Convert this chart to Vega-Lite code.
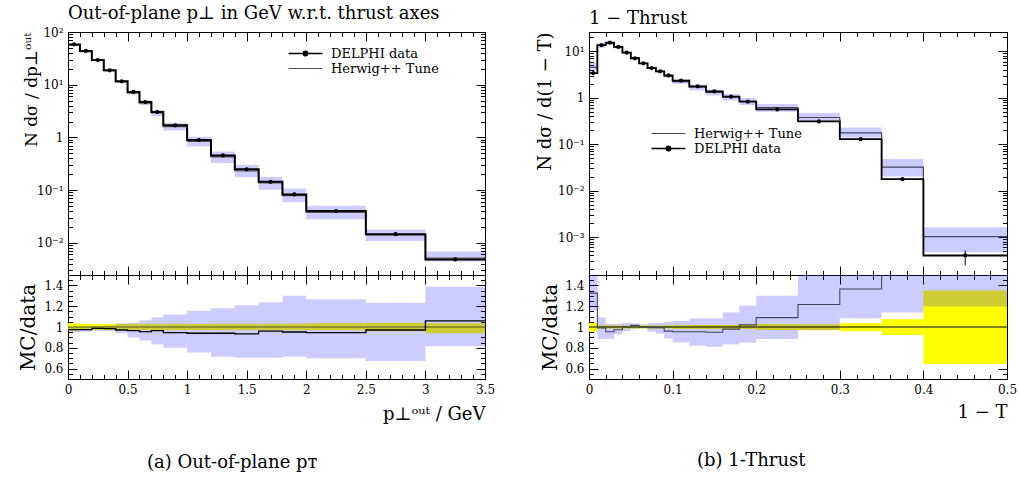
{
  "$schema": "https://vega.github.io/schema/vega-lite/v6.json",
  "background": "white",
  "padding": {"left": 17, "top": 4, "right": 0, "bottom": 0},
  "config": {
    "view": {"stroke": "black", "strokeWidth": 1},
    "axis": {"domain": false, "grid": false, "labelFont": "DejaVu Serif", "labelFontSize": 12, "labelColor": "black", "titleFont": "DejaVu Serif", "titleFontSize": 18, "titleFontWeight": "normal", "titleColor": "black", "tickColor": "black", "tickWidth": 1, "labelFlush": false, "labelOverlap": false, "zindex": 1},
    "title": {"font": "DejaVu Serif", "fontWeight": "normal", "fontSize": 18, "color": "black"}
  },
  "datasets": {
    "pt": [
      {"lo":0,"hi":0.1,"mid":0.05,"d":58,"eLo":57,"eHi":59,"mc":56.5,"bLo":55.1,"bHi":58,"r":0.974,"rLo":0.95,"rHi":1.0,"yLo":0.965,"yHi":1.035},
      {"lo":0.1,"hi":0.2,"mid":0.15,"d":43.6,"eLo":42.9,"eHi":44.3,"mc":42.5,"bLo":41.6,"bHi":43.6,"r":0.974,"rLo":0.955,"rHi":1.0,"yLo":0.97,"yHi":1.03},
      {"lo":0.2,"hi":0.3,"mid":0.25,"d":29.4,"eLo":28.9,"eHi":29.9,"mc":29.0,"bLo":28.4,"bHi":29.7,"r":0.987,"rLo":0.965,"rHi":1.01,"yLo":0.97,"yHi":1.03},
      {"lo":0.3,"hi":0.4,"mid":0.35,"d":18.7,"eLo":18.4,"eHi":19.0,"mc":18.4,"bLo":17.95,"bHi":19.0,"r":0.985,"rLo":0.96,"rHi":1.015,"yLo":0.97,"yHi":1.03},
      {"lo":0.4,"hi":0.5,"mid":0.45,"d":11.6,"eLo":11.4,"eHi":11.8,"mc":11.26,"bLo":10.9,"bHi":12.0,"r":0.971,"rLo":0.94,"rHi":1.035,"yLo":0.97,"yHi":1.03},
      {"lo":0.5,"hi":0.6,"mid":0.55,"d":7.27,"eLo":7.15,"eHi":7.39,"mc":7.02,"bLo":6.54,"bHi":7.56,"r":0.965,"rLo":0.90,"rHi":1.04,"yLo":0.97,"yHi":1.03},
      {"lo":0.6,"hi":0.7,"mid":0.65,"d":4.69,"eLo":4.61,"eHi":4.77,"mc":4.48,"bLo":4.08,"bHi":4.99,"r":0.955,"rLo":0.87,"rHi":1.064,"yLo":0.97,"yHi":1.03},
      {"lo":0.7,"hi":0.8,"mid":0.75,"d":3.03,"eLo":2.98,"eHi":3.08,"mc":2.92,"bLo":2.52,"bHi":3.31,"r":0.965,"rLo":0.833,"rHi":1.093,"yLo":0.97,"yHi":1.03},
      {"lo":0.8,"hi":1.0,"mid":0.9,"d":1.69,"eLo":1.66,"eHi":1.72,"mc":1.60,"bLo":1.35,"bHi":1.89,"r":0.945,"rLo":0.80,"rHi":1.12,"yLo":0.97,"yHi":1.03},
      {"lo":1.0,"hi":1.2,"mid":1.1,"d":0.887,"eLo":0.872,"eHi":0.902,"mc":0.834,"bLo":0.671,"bHi":1.026,"r":0.94,"rLo":0.756,"rHi":1.157,"yLo":0.97,"yHi":1.03},
      {"lo":1.2,"hi":1.4,"mid":1.3,"d":0.455,"eLo":0.447,"eHi":0.463,"mc":0.428,"bLo":0.325,"bHi":0.537,"r":0.94,"rLo":0.715,"rHi":1.18,"yLo":0.97,"yHi":1.03},
      {"lo":1.4,"hi":1.6,"mid":1.5,"d":0.248,"eLo":0.244,"eHi":0.252,"mc":0.231,"bLo":0.175,"bHi":0.300,"r":0.933,"rLo":0.705,"rHi":1.21,"yLo":0.97,"yHi":1.03},
      {"lo":1.6,"hi":1.8,"mid":1.7,"d":0.143,"eLo":0.1405,"eHi":0.1455,"mc":0.137,"bLo":0.101,"bHi":0.177,"r":0.96,"rLo":0.705,"rHi":1.237,"yLo":0.97,"yHi":1.03},
      {"lo":1.8,"hi":2.0,"mid":1.9,"d":0.0824,"eLo":0.081,"eHi":0.0838,"mc":0.0784,"bLo":0.0589,"bHi":0.107,"r":0.952,"rLo":0.715,"rHi":1.30,"yLo":0.968,"yHi":1.032},
      {"lo":2.0,"hi":2.5,"mid":2.25,"d":0.0398,"eLo":0.0391,"eHi":0.0405,"mc":0.0376,"bLo":0.0279,"bHi":0.0504,"r":0.945,"rLo":0.70,"rHi":1.266,"yLo":0.968,"yHi":1.035},
      {"lo":2.5,"hi":3.0,"mid":2.75,"d":0.0145,"eLo":0.0142,"eHi":0.0148,"mc":0.01408,"bLo":0.0108,"bHi":0.0179,"r":0.971,"rLo":0.673,"rHi":1.234,"yLo":0.958,"yHi":1.04},
      {"lo":3.0,"hi":3.5,"mid":3.25,"d":0.00483,"eLo":0.00474,"eHi":0.00492,"mc":0.00511,"bLo":0.0044,"bHi":0.0068,"r":1.058,"rLo":0.814,"rHi":1.388,"yLo":0.94,"yHi":1.035}
    ],
    "ptE": [
      {"x":0,"d":58,"mc":56.5,"r":0.974},{"x":0.1,"d":43.6,"mc":42.5,"r":0.974},{"x":0.2,"d":29.4,"mc":29.0,"r":0.987},{"x":0.3,"d":18.7,"mc":18.4,"r":0.985},{"x":0.4,"d":11.6,"mc":11.26,"r":0.971},{"x":0.5,"d":7.27,"mc":7.02,"r":0.965},{"x":0.6,"d":4.69,"mc":4.48,"r":0.955},{"x":0.7,"d":3.03,"mc":2.92,"r":0.965},{"x":0.8,"d":1.69,"mc":1.60,"r":0.945},{"x":1.0,"d":0.887,"mc":0.834,"r":0.94},{"x":1.2,"d":0.455,"mc":0.428,"r":0.94},{"x":1.4,"d":0.248,"mc":0.231,"r":0.933},{"x":1.6,"d":0.143,"mc":0.137,"r":0.96},{"x":1.8,"d":0.0824,"mc":0.0784,"r":0.952},{"x":2.0,"d":0.0398,"mc":0.0376,"r":0.945},{"x":2.5,"d":0.0145,"mc":0.01408,"r":0.971},{"x":3.0,"d":0.00483,"mc":0.00511,"r":1.058},{"x":3.5,"d":0.00483,"mc":0.00511,"r":1.058}
    ],
    "th": [
      {"lo":0,"hi":0.01,"mid":0.005,"d":3.4,"eLo":3.3,"eHi":3.5,"mc":4.51,"bLo":3.95,"bHi":5.6,"r":1.326,"rLo":1.16,"rHi":1.65,"yLo":0.955,"yHi":1.04},
      {"lo":0.01,"hi":0.02,"mid":0.015,"d":13.5,"eLo":13.3,"eHi":13.7,"mc":13.37,"bLo":11.95,"bHi":14.76,"r":0.99,"rLo":0.885,"rHi":1.093,"yLo":0.985,"yHi":1.015},
      {"lo":0.02,"hi":0.03,"mid":0.025,"d":15.4,"eLo":15.2,"eHi":15.6,"mc":14.7,"bLo":13.6,"bHi":15.9,"r":0.955,"rLo":0.885,"rHi":1.03,"yLo":0.985,"yHi":1.015},
      {"lo":0.03,"hi":0.04,"mid":0.035,"d":12.4,"eLo":12.2,"eHi":12.6,"mc":12.08,"bLo":11.5,"bHi":12.8,"r":0.974,"rLo":0.93,"rHi":1.03,"yLo":0.985,"yHi":1.015},
      {"lo":0.04,"hi":0.05,"mid":0.045,"d":9.36,"eLo":9.22,"eHi":9.5,"mc":9.39,"bLo":8.99,"bHi":9.73,"r":1.003,"rLo":0.96,"rHi":1.04,"yLo":0.985,"yHi":1.015},
      {"lo":0.05,"hi":0.06,"mid":0.055,"d":7.07,"eLo":6.97,"eHi":7.17,"mc":7.18,"bLo":6.93,"bHi":7.32,"r":1.016,"rLo":0.98,"rHi":1.035,"yLo":0.985,"yHi":1.015},
      {"lo":0.06,"hi":0.07,"mid":0.065,"d":5.5,"eLo":5.42,"eHi":5.58,"mc":5.48,"bLo":5.43,"bHi":5.64,"r":0.997,"rLo":0.987,"rHi":1.026,"yLo":0.985,"yHi":1.015},
      {"lo":0.07,"hi":0.08,"mid":0.075,"d":4.36,"eLo":4.3,"eHi":4.42,"mc":4.33,"bLo":4.16,"bHi":4.51,"r":0.994,"rLo":0.955,"rHi":1.035,"yLo":0.985,"yHi":1.015},
      {"lo":0.08,"hi":0.09,"mid":0.085,"d":3.7,"eLo":3.65,"eHi":3.75,"mc":3.68,"bLo":3.46,"bHi":3.85,"r":0.994,"rLo":0.936,"rHi":1.04,"yLo":0.985,"yHi":1.015},
      {"lo":0.09,"hi":0.1,"mid":0.095,"d":3.03,"eLo":2.99,"eHi":3.07,"mc":2.91,"bLo":2.70,"bHi":3.18,"r":0.96,"rLo":0.89,"rHi":1.05,"yLo":0.985,"yHi":1.015},
      {"lo":0.1,"hi":0.12,"mid":0.11,"d":2.33,"eLo":2.3,"eHi":2.36,"mc":2.23,"bLo":1.99,"bHi":2.47,"r":0.955,"rLo":0.853,"rHi":1.058,"yLo":0.98,"yHi":1.02},
      {"lo":0.12,"hi":0.14,"mid":0.13,"d":1.76,"eLo":1.74,"eHi":1.78,"mc":1.68,"bLo":1.44,"bHi":1.91,"r":0.955,"rLo":0.82,"rHi":1.083,"yLo":0.98,"yHi":1.02},
      {"lo":0.14,"hi":0.16,"mid":0.15,"d":1.37,"eLo":1.35,"eHi":1.39,"mc":1.30,"bLo":1.11,"bHi":1.48,"r":0.95,"rLo":0.81,"rHi":1.083,"yLo":0.98,"yHi":1.02},
      {"lo":0.16,"hi":0.18,"mid":0.17,"d":1.05,"eLo":1.035,"eHi":1.065,"mc":1.03,"bLo":0.875,"bHi":1.20,"r":0.98,"rLo":0.833,"rHi":1.14,"yLo":0.98,"yHi":1.02},
      {"lo":0.18,"hi":0.2,"mid":0.19,"d":0.82,"eLo":0.808,"eHi":0.832,"mc":0.836,"bLo":0.697,"bHi":0.988,"r":1.02,"rLo":0.85,"rHi":1.205,"yLo":0.98,"yHi":1.02},
      {"lo":0.2,"hi":0.25,"mid":0.225,"d":0.56,"eLo":0.552,"eHi":0.568,"mc":0.61,"bLo":0.496,"bHi":0.728,"r":1.09,"rLo":0.885,"rHi":1.30,"yLo":0.972,"yHi":1.028},
      {"lo":0.25,"hi":0.3,"mid":0.275,"d":0.308,"eLo":0.302,"eHi":0.314,"mc":0.375,"bLo":0.299,"bHi":0.467,"r":1.216,"rLo":0.97,"rHi":1.52,"yLo":0.968,"yHi":1.026},
      {"lo":0.3,"hi":0.35,"mid":0.325,"d":0.128,"eLo":0.125,"eHi":0.131,"mc":0.175,"bLo":0.139,"bHi":0.229,"r":1.365,"rLo":1.083,"rHi":1.79,"yLo":0.96,"yHi":1.035},
      {"lo":0.35,"hi":0.4,"mid":0.375,"d":0.0176,"eLo":0.0169,"eHi":0.0183,"mc":0.032,"bLo":0.02,"bHi":0.048,"r":1.82,"rLo":1.14,"rHi":2.73,"yLo":0.923,"yHi":1.074},
      {"lo":0.4,"hi":0.5,"mid":0.45,"d":0.0004,"eLo":0.000245,"eHi":0.00051,"mc":0.00102,"bLo":0.000468,"bHi":0.00162,"r":2.55,"rLo":1.196,"rHi":4.05,"yLo":0.644,"yHi":1.35}
    ],
    "thE": [
      {"x":0,"d":3.4,"mc":4.51,"r":1.326},{"x":0.01,"d":13.5,"mc":13.37,"r":0.99},{"x":0.02,"d":15.4,"mc":14.7,"r":0.955},{"x":0.03,"d":12.4,"mc":12.08,"r":0.974},{"x":0.04,"d":9.36,"mc":9.39,"r":1.003},{"x":0.05,"d":7.07,"mc":7.18,"r":1.016},{"x":0.06,"d":5.5,"mc":5.48,"r":0.997},{"x":0.07,"d":4.36,"mc":4.33,"r":0.994},{"x":0.08,"d":3.7,"mc":3.68,"r":0.994},{"x":0.09,"d":3.03,"mc":2.91,"r":0.96},{"x":0.1,"d":2.33,"mc":2.23,"r":0.955},{"x":0.12,"d":1.76,"mc":1.68,"r":0.955},{"x":0.14,"d":1.37,"mc":1.30,"r":0.95},{"x":0.16,"d":1.05,"mc":1.03,"r":0.98},{"x":0.18,"d":0.82,"mc":0.836,"r":1.02},{"x":0.2,"d":0.56,"mc":0.61,"r":1.09},{"x":0.25,"d":0.308,"mc":0.375,"r":1.216},{"x":0.3,"d":0.128,"mc":0.175,"r":1.365},{"x":0.35,"d":0.0176,"mc":0.032,"r":1.82},{"x":0.4,"d":0.0004,"mc":0.00102,"r":2.55},{"x":0.5,"d":0.0004,"mc":0.00102,"r":2.55}
    ]
  },
  "hconcat": [
    {
      "vconcat": [
        {
          "width": 417, "height": 243,
          "title": {"text": "Out-of-plane p⊥ in GeV w.r.t. thrust axes", "anchor": "start", "frame": "group", "offset": 3},
          "layer": [
            {
              "data": {"name": "pt"},
              "mark": {"type": "rect", "color": "#0000ff", "opacity": 0.2},
              "encoding": {
                "x": {"field": "lo", "type": "quantitative", "scale": {"domain": [0, 3.5], "nice": false, "zero": false},
                  "axis": {"orient": "bottom", "values": [0,0.1,0.2,0.3,0.4,0.5,0.6,0.7,0.8,0.9,1,1.1,1.2,1.3,1.4,1.5,1.6,1.7,1.8,1.9,2,2.1,2.2,2.3,2.4,2.5,2.6,2.7,2.8,2.9,3,3.1,3.2,3.3,3.4,3.5], "labels": false, "title": null,
                    "tickSize": {"condition": {"test": "abs(datum.value*2-round(datum.value*2))<0.001", "value": -9}, "value": -4.5}}},
                "x2": {"field": "hi"},
                "y": {"field": "bLo", "type": "quantitative", "scale": {"type": "log", "domain": [0.00244, 100], "nice": false},
                  "axis": {"orient": "left", "values": [0.003,0.004,0.005,0.006,0.007,0.008,0.009,0.01,0.02,0.03,0.04,0.05,0.06,0.07,0.08,0.09,0.1,0.2,0.3,0.4,0.5,0.6,0.7,0.8,0.9,1,2,3,4,5,6,7,8,9,10,20,30,40,50,60,70,80,90,100],
                    "labelExpr": "abs(log(datum.value)/LN10-round(log(datum.value)/LN10))<0.001 ? (round(log(datum.value)/LN10)==0 ? '1' : '10' + (round(log(datum.value)/LN10)<0 ? '⁻' : '') + substring('⁰¹²³⁴⁵⁶⁷⁸⁹', abs(round(log(datum.value)/LN10)), abs(round(log(datum.value)/LN10))+1)) : ''",
                    "labelPadding": 14, "title": "N dσ / dp⊥ᵒᵘᵗ", "titleFontSize": 17, "titleAnchor": "end", "titleX": -32, "titleBaseline": "alphabetic",
                    "tickSize": {"condition": {"test": "abs(log(datum.value)/LN10-round(log(datum.value)/LN10))<0.001", "value": -9}, "value": -4.5}}},
                "y2": {"field": "bHi"}
              }
            },
            {
              "data": {"name": "ptE"},
              "mark": {"type": "line", "interpolate": "step-after", "strokeWidth": 1.2},
              "encoding": {
                "x": {"field": "x", "type": "quantitative",
                  "axis": {"orient": "top", "values": [0,0.1,0.2,0.3,0.4,0.5,0.6,0.7,0.8,0.9,1,1.1,1.2,1.3,1.4,1.5,1.6,1.7,1.8,1.9,2,2.1,2.2,2.3,2.4,2.5,2.6,2.7,2.8,2.9,3,3.1,3.2,3.3,3.4,3.5], "labels": false, "title": null,
                    "tickSize": {"condition": {"test": "abs(datum.value*2-round(datum.value*2))<0.001", "value": -9}, "value": -4.5}}},
                "y": {"field": "mc", "type": "quantitative",
                  "axis": {"orient": "right", "values": [0.003,0.004,0.005,0.006,0.007,0.008,0.009,0.01,0.02,0.03,0.04,0.05,0.06,0.07,0.08,0.09,0.1,0.2,0.3,0.4,0.5,0.6,0.7,0.8,0.9,1,2,3,4,5,6,7,8,9,10,20,30,40,50,60,70,80,90,100], "labels": false, "title": null,
                    "tickSize": {"condition": {"test": "abs(log(datum.value)/LN10-round(log(datum.value)/LN10))<0.001", "value": -9}, "value": -4.5}}},
                "color": {"datum": "Herwig++ Tune", "type": "nominal", "scale": {"domain": ["DELPHI data", "Herwig++ Tune"], "range": ["black", "#555555"]},
                  "legend": {"orient": "none", "legendX": 231, "legendY": 15, "title": null, "symbolSize": 128, "labelFont": "DejaVu Serif", "labelFontSize": 13, "labelColor": "black", "rowPadding": 1, "padding": 0, "labelOffset": 19, "symbolOffset": 0,
                    "encode": {"symbols": {"update": {"shape": {"signal": "datum.value === 'DELPHI data' ? 'M-3,0H3M-0.38,0A0.38,0.38,0,1,0,0.38,0A0.38,0.38,0,1,0,-0.38,0Z' : 'M-3,0H3'"}, "fill": {"value": "black"}, "strokeWidth": {"signal": "datum.value === 'DELPHI data' ? 1.6 : 1.2"}}}}}}
              }
            },
            {
              "data": {"name": "ptE"},
              "mark": {"type": "line", "interpolate": "step-after", "strokeWidth": 2},
              "encoding": {
                "x": {"field": "x", "type": "quantitative", "axis": null},
                "y": {"field": "d", "type": "quantitative", "axis": null},
                "color": {"datum": "DELPHI data", "type": "nominal",
                  "legend": {"orient": "none", "legendX": 231, "legendY": 15, "title": null, "symbolSize": 128, "labelFont": "DejaVu Serif", "labelFontSize": 13, "labelColor": "black", "rowPadding": 1, "padding": 0, "labelOffset": 19, "symbolOffset": 0,
                    "encode": {"symbols": {"update": {"shape": {"signal": "datum.value === 'DELPHI data' ? 'M-3,0H3M-0.38,0A0.38,0.38,0,1,0,0.38,0A0.38,0.38,0,1,0,-0.38,0Z' : 'M-3,0H3'"}, "fill": {"value": "black"}, "strokeWidth": {"signal": "datum.value === 'DELPHI data' ? 1.6 : 1.2"}}}}}}
              }
            },
            {
              "data": {"name": "pt"},
              "mark": {"type": "rule", "color": "black"},
              "encoding": {
                "x": {"field": "mid", "type": "quantitative", "axis": null},
                "y": {"field": "eLo", "type": "quantitative", "axis": null},
                "y2": {"field": "eHi"}
              }
            },
            {
              "data": {"name": "pt"},
              "mark": {"type": "point", "filled": true, "color": "black", "size": 18, "opacity": 1},
              "encoding": {
                "x": {"field": "mid", "type": "quantitative", "axis": null},
                "y": {"field": "d", "type": "quantitative", "axis": null}
              }
            }
          ],
          "resolve": {"axis": {"x": "independent", "y": "independent"}}
        },
        {
          "width": 417, "height": 104,
          "layer": [
            {
              "data": {"name": "pt"},
              "mark": {"type": "rect", "color": "#ffff00", "clip": true},
              "encoding": {
                "x": {"field": "lo", "type": "quantitative", "scale": {"domain": [0, 3.5], "nice": false, "zero": false},
                  "axis": {"orient": "bottom", "values": [0,0.1,0.2,0.3,0.4,0.5,0.6,0.7,0.8,0.9,1,1.1,1.2,1.3,1.4,1.5,1.6,1.7,1.8,1.9,2,2.1,2.2,2.3,2.4,2.5,2.6,2.7,2.8,2.9,3,3.1,3.2,3.3,3.4,3.5],
                    "labelExpr": "abs(datum.value*2-round(datum.value*2))<0.001 ? format(datum.value, '~g') : ''", "labelPadding": 14,
                    "title": "p⊥ᵒᵘᵗ / GeV", "titleAnchor": "end", "titlePadding": 6,
                    "tickSize": {"condition": {"test": "abs(datum.value*2-round(datum.value*2))<0.001", "value": -9}, "value": -4.5}}},
                "x2": {"field": "hi"},
                "y": {"field": "yLo", "type": "quantitative", "scale": {"domain": [0.5, 1.5], "nice": false, "zero": false},
                  "axis": {"orient": "left", "values": [0.5,0.55,0.6,0.65,0.7,0.75,0.8,0.85,0.9,0.95,1,1.05,1.1,1.15,1.2,1.25,1.3,1.35,1.4,1.45,1.5],
                    "labelExpr": "abs(datum.value*5-round(datum.value*5))<0.001 ? format(datum.value, '~g') : ''", "labelPadding": 14,
                    "title": "MC/data", "titleFontSize": 20, "titleX": -34, "titleBaseline": "alphabetic",
                    "tickSize": {"condition": {"test": "abs(datum.value*5-round(datum.value*5))<0.001", "value": -9}, "value": -4.5}}},
                "y2": {"field": "yHi"}
              }
            },
            {
              "data": {"name": "pt"},
              "mark": {"type": "rect", "color": "#0000ff", "opacity": 0.2, "clip": true},
              "encoding": {
                "x": {"field": "lo", "type": "quantitative",
                  "axis": {"orient": "top", "values": [0,0.1,0.2,0.3,0.4,0.5,0.6,0.7,0.8,0.9,1,1.1,1.2,1.3,1.4,1.5,1.6,1.7,1.8,1.9,2,2.1,2.2,2.3,2.4,2.5,2.6,2.7,2.8,2.9,3,3.1,3.2,3.3,3.4,3.5], "labels": false, "title": null,
                    "tickSize": {"condition": {"test": "abs(datum.value*2-round(datum.value*2))<0.001", "value": -9}, "value": -4.5}}},
                "x2": {"field": "hi"},
                "y": {"field": "rLo", "type": "quantitative",
                  "axis": {"orient": "right", "values": [0.5,0.55,0.6,0.65,0.7,0.75,0.8,0.85,0.9,0.95,1,1.05,1.1,1.15,1.2,1.25,1.3,1.35,1.4,1.45,1.5], "labels": false, "title": null,
                    "tickSize": {"condition": {"test": "abs(datum.value*5-round(datum.value*5))<0.001", "value": -9}, "value": -4.5}}},
                "y2": {"field": "rHi"}
              }
            },
            {
              "data": {"values": [{}]},
              "mark": {"type": "rule", "color": "#333333", "strokeWidth": 0.8},
              "encoding": {"y": {"datum": 1, "type": "quantitative", "axis": null}}
            },
            {
              "data": {"name": "ptE"},
              "mark": {"type": "line", "interpolate": "step-after", "color": "black", "strokeWidth": 1.3, "clip": true},
              "encoding": {
                "x": {"field": "x", "type": "quantitative", "axis": null},
                "y": {"field": "r", "type": "quantitative", "axis": null}
              }
            }
          ],
          "resolve": {"axis": {"x": "independent", "y": "independent"}}
        }
      ],
      "spacing": 0,
      "bounds": "flush",
      "title": {"text": "(a)  Out-of-plane pᴛ", "orient": "bottom", "anchor": "middle", "dx": -24, "offset": 30}
    },
    {
      "vconcat": [
        {
          "width": 418, "height": 243,
          "title": {"text": "1 − Thrust", "anchor": "start", "frame": "group", "offset": 3},
          "layer": [
            {
              "data": {"name": "th"},
              "mark": {"type": "rect", "color": "#0000ff", "opacity": 0.2},
              "encoding": {
                "x": {"field": "lo", "type": "quantitative", "scale": {"domain": [0, 0.5], "nice": false, "zero": false},
                  "axis": {"orient": "bottom", "values": [0,0.02,0.04,0.06,0.08,0.1,0.12,0.14,0.16,0.18,0.2,0.22,0.24,0.26,0.28,0.3,0.32,0.34,0.36,0.38,0.4,0.42,0.44,0.46,0.48,0.5], "labels": false, "title": null,
                    "tickSize": {"condition": {"test": "abs(datum.value*10-round(datum.value*10))<0.001", "value": -9}, "value": -4.5}}},
                "x2": {"field": "hi"},
                "y": {"field": "bLo", "type": "quantitative", "scale": {"type": "log", "domain": [0.000152, 26], "nice": false},
                  "axis": {"orient": "left", "values": [0.0002,0.0003,0.0004,0.0005,0.0006,0.0007,0.0008,0.0009,0.001,0.002,0.003,0.004,0.005,0.006,0.007,0.008,0.009,0.01,0.02,0.03,0.04,0.05,0.06,0.07,0.08,0.09,0.1,0.2,0.3,0.4,0.5,0.6,0.7,0.8,0.9,1,2,3,4,5,6,7,8,9,10,20],
                    "labelExpr": "abs(log(datum.value)/LN10-round(log(datum.value)/LN10))<0.001 ? (round(log(datum.value)/LN10)==0 ? '1' : '10' + (round(log(datum.value)/LN10)<0 ? '⁻' : '') + substring('⁰¹²³⁴⁵⁶⁷⁸⁹', abs(round(log(datum.value)/LN10)), abs(round(log(datum.value)/LN10))+1)) : ''",
                    "labelPadding": 14, "title": "N dσ / d(1 − T)", "titleAnchor": "end", "titleX": -39, "titleBaseline": "alphabetic",
                    "tickSize": {"condition": {"test": "abs(log(datum.value)/LN10-round(log(datum.value)/LN10))<0.001", "value": -9}, "value": -4.5}}},
                "y2": {"field": "bHi"}
              }
            },
            {
              "data": {"name": "thE"},
              "mark": {"type": "line", "interpolate": "step-after", "strokeWidth": 1.2},
              "encoding": {
                "x": {"field": "x", "type": "quantitative",
                  "axis": {"orient": "top", "values": [0,0.02,0.04,0.06,0.08,0.1,0.12,0.14,0.16,0.18,0.2,0.22,0.24,0.26,0.28,0.3,0.32,0.34,0.36,0.38,0.4,0.42,0.44,0.46,0.48,0.5], "labels": false, "title": null,
                    "tickSize": {"condition": {"test": "abs(datum.value*10-round(datum.value*10))<0.001", "value": -9}, "value": -4.5}}},
                "y": {"field": "mc", "type": "quantitative",
                  "axis": {"orient": "right", "values": [0.0002,0.0003,0.0004,0.0005,0.0006,0.0007,0.0008,0.0009,0.001,0.002,0.003,0.004,0.005,0.006,0.007,0.008,0.009,0.01,0.02,0.03,0.04,0.05,0.06,0.07,0.08,0.09,0.1,0.2,0.3,0.4,0.5,0.6,0.7,0.8,0.9,1,2,3,4,5,6,7,8,9,10,20], "labels": false, "title": null,
                    "tickSize": {"condition": {"test": "abs(log(datum.value)/LN10-round(log(datum.value)/LN10))<0.001", "value": -9}, "value": -4.5}}},
                "color": {"datum": "Herwig++ Tune", "type": "nominal", "scale": {"domain": ["Herwig++ Tune", "DELPHI data"], "range": ["#444460", "black"]},
                  "legend": {"orient": "none", "legendX": 73, "legendY": 95, "title": null, "symbolSize": 128, "labelFont": "DejaVu Serif", "labelFontSize": 13, "labelColor": "black", "rowPadding": 1, "padding": 0, "labelOffset": 19, "symbolOffset": 0,
                    "encode": {"symbols": {"update": {"shape": {"signal": "datum.value === 'DELPHI data' ? 'M-3,0H3M-0.38,0A0.38,0.38,0,1,0,0.38,0A0.38,0.38,0,1,0,-0.38,0Z' : 'M-3,0H3'"}, "fill": {"value": "black"}, "strokeWidth": {"signal": "datum.value === 'DELPHI data' ? 1.6 : 1.2"}}}}}}
              }
            },
            {
              "data": {"name": "thE"},
              "mark": {"type": "line", "interpolate": "step-after", "strokeWidth": 1.8},
              "encoding": {
                "x": {"field": "x", "type": "quantitative", "axis": null},
                "y": {"field": "d", "type": "quantitative", "axis": null},
                "color": {"datum": "DELPHI data", "type": "nominal",
                  "legend": {"orient": "none", "legendX": 73, "legendY": 95, "title": null, "symbolSize": 128, "labelFont": "DejaVu Serif", "labelFontSize": 13, "labelColor": "black", "rowPadding": 1, "padding": 0, "labelOffset": 19, "symbolOffset": 0,
                    "encode": {"symbols": {"update": {"shape": {"signal": "datum.value === 'DELPHI data' ? 'M-3,0H3M-0.38,0A0.38,0.38,0,1,0,0.38,0A0.38,0.38,0,1,0,-0.38,0Z' : 'M-3,0H3'"}, "fill": {"value": "black"}, "strokeWidth": {"signal": "datum.value === 'DELPHI data' ? 1.6 : 1.2"}}}}}}
              }
            },
            {
              "data": {"name": "th"},
              "mark": {"type": "rule", "color": "black"},
              "encoding": {
                "x": {"field": "mid", "type": "quantitative", "axis": null},
                "y": {"field": "eLo", "type": "quantitative", "axis": null},
                "y2": {"field": "eHi"}
              }
            },
            {
              "data": {"name": "th"},
              "mark": {"type": "point", "filled": true, "color": "black", "size": 18, "opacity": 1},
              "encoding": {
                "x": {"field": "mid", "type": "quantitative", "axis": null},
                "y": {"field": "d", "type": "quantitative", "axis": null}
              }
            }
          ],
          "resolve": {"axis": {"x": "independent", "y": "independent"}}
        },
        {
          "width": 418, "height": 104,
          "layer": [
            {
              "data": {"name": "th"},
              "mark": {"type": "rect", "color": "#ffff00", "clip": true},
              "encoding": {
                "x": {"field": "lo", "type": "quantitative", "scale": {"domain": [0, 0.5], "nice": false, "zero": false},
                  "axis": {"orient": "bottom", "values": [0,0.02,0.04,0.06,0.08,0.1,0.12,0.14,0.16,0.18,0.2,0.22,0.24,0.26,0.28,0.3,0.32,0.34,0.36,0.38,0.4,0.42,0.44,0.46,0.48,0.5],
                    "labelExpr": "abs(datum.value*10-round(datum.value*10))<0.001 ? format(datum.value, '~g') : ''", "labelPadding": 14,
                    "title": "1 − T", "titleAnchor": "end", "titlePadding": 4,
                    "tickSize": {"condition": {"test": "abs(datum.value*10-round(datum.value*10))<0.001", "value": -9}, "value": -4.5}}},
                "x2": {"field": "hi"},
                "y": {"field": "yLo", "type": "quantitative", "scale": {"domain": [0.5, 1.5], "nice": false, "zero": false},
                  "axis": {"orient": "left", "values": [0.5,0.55,0.6,0.65,0.7,0.75,0.8,0.85,0.9,0.95,1,1.05,1.1,1.15,1.2,1.25,1.3,1.35,1.4,1.45,1.5],
                    "labelExpr": "abs(datum.value*5-round(datum.value*5))<0.001 ? format(datum.value, '~g') : ''", "labelPadding": 14,
                    "title": "MC/data", "titleFontSize": 20, "titleX": -33, "titleBaseline": "alphabetic",
                    "tickSize": {"condition": {"test": "abs(datum.value*5-round(datum.value*5))<0.001", "value": -9}, "value": -4.5}}},
                "y2": {"field": "yHi"}
              }
            },
            {
              "data": {"name": "th"},
              "mark": {"type": "rect", "color": "#0000ff", "opacity": 0.2, "clip": true},
              "encoding": {
                "x": {"field": "lo", "type": "quantitative",
                  "axis": {"orient": "top", "values": [0,0.02,0.04,0.06,0.08,0.1,0.12,0.14,0.16,0.18,0.2,0.22,0.24,0.26,0.28,0.3,0.32,0.34,0.36,0.38,0.4,0.42,0.44,0.46,0.48,0.5], "labels": false, "title": null,
                    "tickSize": {"condition": {"test": "abs(datum.value*10-round(datum.value*10))<0.001", "value": -9}, "value": -4.5}}},
                "x2": {"field": "hi"},
                "y": {"field": "rLo", "type": "quantitative",
                  "axis": {"orient": "right", "values": [0.5,0.55,0.6,0.65,0.7,0.75,0.8,0.85,0.9,0.95,1,1.05,1.1,1.15,1.2,1.25,1.3,1.35,1.4,1.45,1.5], "labels": false, "title": null,
                    "tickSize": {"condition": {"test": "abs(datum.value*5-round(datum.value*5))<0.001", "value": -9}, "value": -4.5}}},
                "y2": {"field": "rHi"}
              }
            },
            {
              "data": {"values": [{}]},
              "mark": {"type": "rule", "color": "black", "strokeWidth": 1},
              "encoding": {"y": {"datum": 1, "type": "quantitative", "axis": null}}
            },
            {
              "data": {"name": "thE"},
              "mark": {"type": "line", "interpolate": "step-after", "color": "#444460", "strokeWidth": 1.1, "clip": true},
              "encoding": {
                "x": {"field": "x", "type": "quantitative", "axis": null},
                "y": {"field": "r", "type": "quantitative", "axis": null}
              }
            }
          ],
          "resolve": {"axis": {"x": "independent", "y": "independent"}}
        }
      ],
      "spacing": 0,
      "bounds": "flush",
      "title": {"text": "(b)  1-Thrust", "orient": "bottom", "anchor": "middle", "dx": -25, "offset": 30}
    }
  ],
  "spacing": 39,
  "resolve": {"scale": {"color": "independent"}, "legend": {"color": "independent"}}
}
